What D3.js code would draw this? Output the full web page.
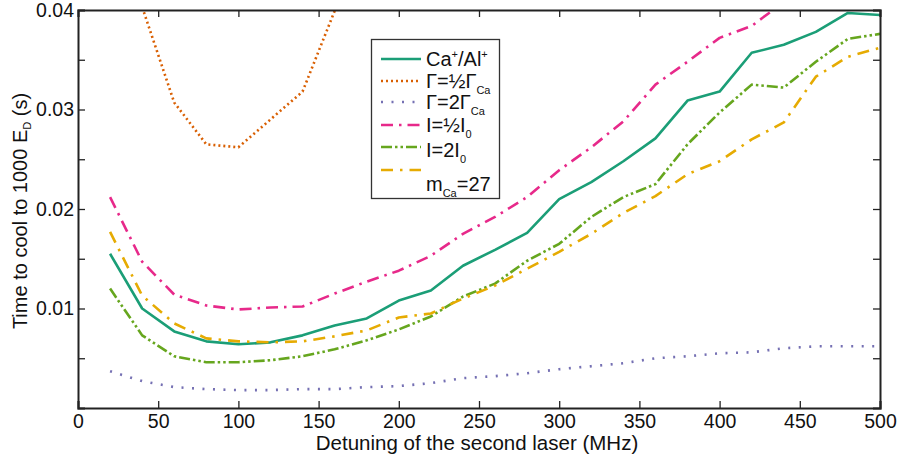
<!DOCTYPE html>
<html>
<head>
<meta charset="utf-8">
<script src="https://cdn.jsdelivr.net/npm/d3@7"></script>
<style>
  body { margin: 0; background: #fff; }
  svg text { font-family: "Liberation Sans", Arial, sans-serif; fill: #111; }
</style>
</head>
<body>
<div id="viz"></div>
<script>
// detuning values (MHz)
var detuning = [20, 40, 60, 80, 100, 120, 140, 160, 180, 200, 220, 240, 260,
                280, 300, 320, 340, 360, 380, 400, 420, 440, 460, 480, 500];

var caAl   = [0.0155, 0.0100, 0.0077, 0.0067, 0.0064, 0.0066, 0.0073, 0.0083, 0.0090, 0.0108, 0.0118, 0.0143, 0.0159,
              0.0176, 0.0210, 0.0227, 0.0248, 0.0271, 0.0309, 0.0318, 0.0357, 0.0365, 0.0378, 0.0397, 0.0395];
var gHalf  = [0.0560, 0.0403, 0.0307, 0.0265, 0.0262, 0.0290, 0.0318, 0.0399, 0.0480];
var gTwice = [0.0037, 0.0027, 0.0021, 0.0019, 0.0018, 0.0018, 0.0019, 0.0019, 0.0021, 0.0022, 0.0025, 0.0030, 0.0032,
              0.0035, 0.0039, 0.0042, 0.0045, 0.0050, 0.0052, 0.0055, 0.0056, 0.0060, 0.0062, 0.0062, 0.0062];
var iHalf  = [0.0212, 0.0147, 0.0114, 0.0103, 0.0099, 0.0101, 0.0102, 0.0115, 0.0127, 0.0138, 0.0153, 0.0175, 0.0192,
              0.0212, 0.0239, 0.0262, 0.0288, 0.0325, 0.0348, 0.0372, 0.0384, 0.0408, 0.0425];
var iTwice = [0.0120, 0.0073, 0.0052, 0.0046, 0.0046, 0.0048, 0.0052, 0.0059, 0.0068, 0.0079, 0.0092, 0.0112, 0.0125,
              0.0148, 0.0165, 0.0192, 0.0212, 0.0225, 0.0265, 0.0297, 0.0325, 0.0322, 0.0348, 0.0371, 0.0376];
var mass27 = [0.0177, 0.0113, 0.0085, 0.0070, 0.0067, 0.0066, 0.0067, 0.0072, 0.0078, 0.0091, 0.0095, 0.0110, 0.0123,
              0.0140, 0.0157, 0.0175, 0.0196, 0.0213, 0.0235, 0.0248, 0.0270, 0.0287, 0.0333, 0.0353, 0.0362];

var xTicks = [0, 50, 100, 150, 200, 250, 300, 350, 400, 450, 500];
var yTicks = [0.01, 0.02, 0.03, 0.04];
var yMinor = [0.005, 0.015, 0.025, 0.035];

var series = [
  {name: 'caAl',   values: caAl,   color: '#1b9e77', dash: null},
  {name: 'gHalf',  values: gHalf,  color: '#d95f02', dash: '2,3'},
  {name: 'gTwice', values: gTwice, color: '#7570b3', dash: '2,8.5'},
  {name: 'iHalf',  values: iHalf,  color: '#e7298a', dash: '12,6,2.5,6'},
  {name: 'iTwice', values: iTwice, color: '#66a61e', dash: '11,3,2.5,3,2.5,3'},
  {name: 'mass27', values: mass27, color: '#e6ab02', dash: '12,7,2.5,7'}
];

var W = 904, H = 464,
    margin = {top: 10, right: 24, bottom: 56, left: 78},
    width = W - margin.left - margin.right,
    height = H - margin.top - margin.bottom;

var svg = d3.select('#viz').append('svg')
    .attr('width', W)
    .attr('height', H);

var x = d3.scaleLinear().domain([0, 500]).range([margin.left, margin.left + width]);
var y = d3.scaleLinear().domain([0, 0.04]).range([margin.top + height, margin.top]);

svg.append('clipPath').attr('id', 'plotclip')
  .append('rect')
    .attr('x', margin.left).attr('y', margin.top)
    .attr('width', width).attr('height', height);

var line = d3.line()
    .x(function(d, i) { return x(detuning[i]); })
    .y(function(d) { return y(d); });

var lines = svg.append('g').attr('clip-path', 'url(#plotclip)');
series.forEach(function(s) {
  lines.append('path')
    .datum(s.values)
    .attr('d', line)
    .attr('fill', 'none')
    .attr('stroke', s.color)
    .attr('stroke-width', 2.6)
    .attr('stroke-dasharray', s.dash)
    .attr('stroke-linejoin', 'round');
});

// axes, matlab style: ticks inward on all four sides
var tk = 7;
var xBottom = svg.append('g')
    .attr('transform', 'translate(0,' + (margin.top + height) + ')')
    .call(d3.axisBottom(x).tickValues(xTicks).tickSize(-tk).tickPadding(6).tickFormat(d3.format('d')));
var xTop = svg.append('g')
    .attr('transform', 'translate(0,' + margin.top + ')')
    .call(d3.axisTop(x).tickValues(xTicks).tickSize(-tk).tickFormat(''));
var yLeft = svg.append('g')
    .attr('transform', 'translate(' + margin.left + ',0)')
    .call(d3.axisLeft(y).tickValues(yTicks.concat(yMinor)).tickSize(-tk).tickPadding(4)
      .tickFormat(function(d) { return yTicks.indexOf(d) >= 0 ? d3.format('.2f')(d) : ''; }));
var yRight = svg.append('g')
    .attr('transform', 'translate(' + (margin.left + width) + ',0)')
    .call(d3.axisRight(y).tickValues(yTicks.concat(yMinor)).tickSize(-tk).tickFormat(''));

[xBottom, xTop, yLeft, yRight].forEach(function(g) {
  g.select('.domain').attr('stroke', '#222').attr('stroke-width', 2);
  g.selectAll('.tick line').attr('stroke', '#222').attr('stroke-width', 1.3);
  g.selectAll('.tick text').attr('font-size', 19.5).attr('fill', '#111')
    .attr('font-family', '"Liberation Sans", Arial, sans-serif');
});

// axis labels
svg.append('text')
  .attr('x', x(250) - 2).attr('y', 450)
  .attr('text-anchor', 'middle')
  .attr('font-size', 20.5)
  .text('Detuning of the second laser (MHz)');

var yl = svg.append('text')
  .attr('transform', 'translate(27,' + 211 + ') rotate(-90)')
  .attr('text-anchor', 'middle')
  .attr('font-size', 20);
yl.append('tspan').text('Time to cool to 1000 E');
yl.append('tspan').attr('font-size', 11).attr('dy', 4).text('D');
yl.append('tspan').attr('dy', -4).text(' (s)');

// legend
var legend = svg.append('g');
legend.append('rect')
  .attr('x', 371.5).attr('y', 39.5)
  .attr('width', 128).attr('height', 159)
  .attr('fill', '#fff')
  .attr('stroke', '#333').attr('stroke-width', 1.3);

var lineY = [59, 81, 102, 125, 147, 170];
var textY = [66, 88, 109, 132, 157, 191];
var labels = [
  [['Ca', 0], ['+', 1], ['/Al', 0], ['+', 1]],
  [['Γ=½Γ', 0], ['Ca', -1]],
  [['Γ=2Γ', 0], ['Ca', -1]],
  [['I=½I', 0], ['0', -1]],
  [['I=2I', 0], ['0', -1]],
  [['m', 0], ['Ca', -1], ['=27', 0]]
];

series.forEach(function(s, i) {
  legend.append('line')
    .attr('x1', 381).attr('x2', 421)
    .attr('y1', lineY[i]).attr('y2', lineY[i])
    .attr('stroke', s.color)
    .attr('stroke-width', 2.6)
    .attr('stroke-dasharray', s.dash);

  var t = legend.append('text')
    .attr('x', 426).attr('y', textY[i])
    .attr('font-size', 20);
  var shift = 0;
  labels[i].forEach(function(p) {
    var dy = 0;
    if (p[1] === 1) dy = -8 - shift;
    else if (p[1] === -1) dy = 6 - shift;
    else dy = -shift;
    shift += dy;
    t.append('tspan')
      .attr('dy', dy)
      .attr('font-size', p[1] === 0 ? 20 : 11)
      .text(p[0]);
  });
});
</script>
</body>
</html>
